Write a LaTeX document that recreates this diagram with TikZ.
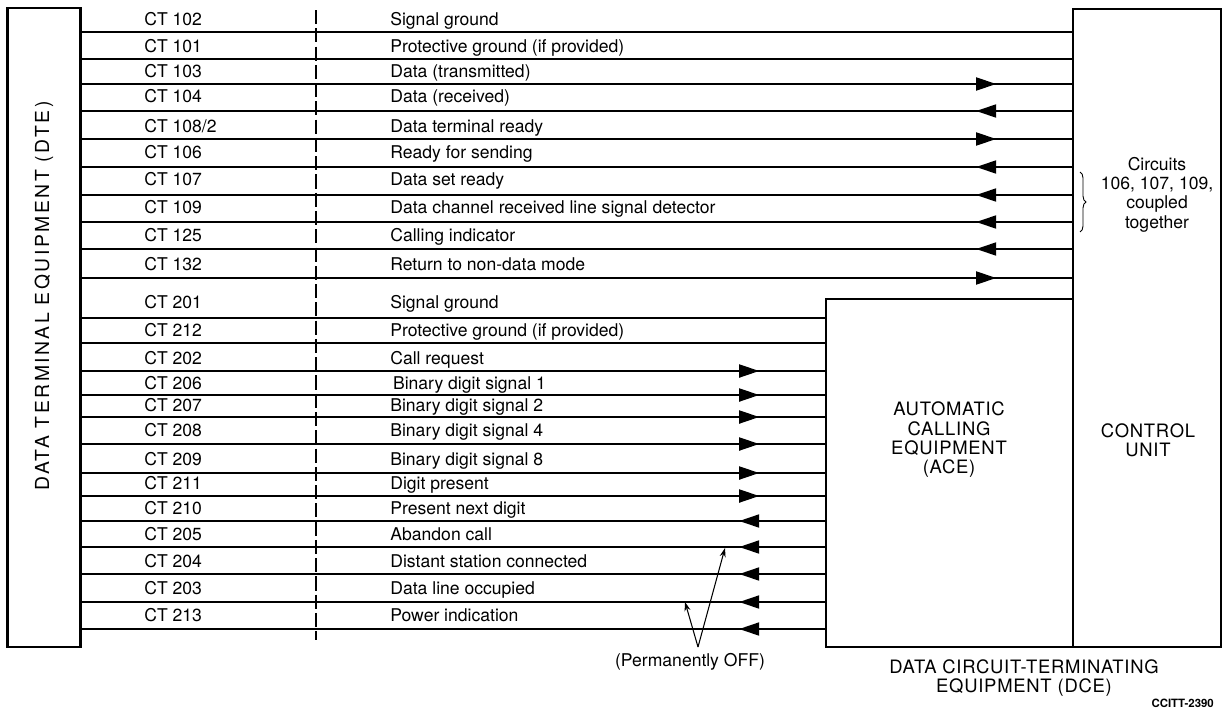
\documentclass[tikz,border=0pt]{standalone}
\usepackage{fontspec}
\setmainfont{TeX Gyre Heros}
\newfontfamily\capsfont[LetterSpace=4]{TeX Gyre Heros}
\newfontfamily\dtefont[LetterSpace=13]{TeX Gyre Heros}
\usetikzlibrary{arrows.meta,fit,decorations.markings,decorations.pathreplacing}

\begin{document}
\begin{tikzpicture}[x=0.02cm, y=-0.02cm,
  font=\fontsize{10}{12}\selectfont,
  >={Triangle[length=4mm,width=2.6mm]},
  box/.style={draw, line width=1.5pt, inner sep=0pt},
  sig/.style={line width=1.1pt},
  fwd/.style={sig, postaction={decorate}, decoration={markings,
    mark=at position #1 with {\arrow{>}}}},
  bwd/.style={sig, postaction={decorate}, decoration={markings,
    mark=at position #1 with {\arrow{<}}}},
  ct/.style={anchor=base west, inner sep=0pt},
  caps/.style={font=\capsfont\fontsize{10.5}{11}\selectfont, align=center},
  iface/.style={line width=1.1pt, dash pattern=on 8pt off 2.4pt},
  offarr/.style={line width=0.6pt, -{Stealth[length=1.8mm,width=1.2mm]}},
]
\useasboundingbox (0,0) rectangle (1222,710);
% equipment boxes
\node[box, fit={(7.5,8) (80.5,647)}] (dte) {};
\node[box, fit={(1073,9) (1221,647)}] (cu) {};
\node[box, fit={(826,299) (1073,647)}] (ace) {};
\node[rotate=90, font=\dtefont\fontsize{11}{13}\selectfont] (dtel) at (44,296)
  {DATA TERMINAL EQUIPMENT (DTE)};
\node[caps] (acel) at (949,440) {AUTOMATIC\\CALLING\\EQUIPMENT\\(ACE)};
\node[caps] (cul) at (1148,440) {CONTROL\\UNIT};
\node[caps] (dcel) at (1024,678) {DATA CIRCUIT-TERMINATING\\EQUIPMENT (DCE)};
\node[align=center, font=\fontsize{10}{11}\selectfont] (cpl) at (1157,194.5)
  {Circuits\\106, 107, 109,\\coupled\\together};
\coordinate (brt) at (1080,172);
\coordinate (brb) at (1080,232);
\draw[line width=0.5pt, decorate, decoration={brace, amplitude=1.2mm}] (brt) -- (brb);
% interface
\coordinate (itop) at (316,10);
\coordinate (ibot) at (316,640);
\draw[iface] (itop) -- (ibot);
% 100-series circuits
\node[ct] (c102) at (144,25.7) {CT 102}; \node[ct] (s102) at (390,25.7) {Signal ground};
\draw[sig] (dte.east |- 0,32) -- (cu.west |- 0,32);
\node[ct] (c101) at (144,52.3) {CT 101}; \node[ct] (s101) at (390,52.3) {Protective ground (if provided)};
\draw[sig] (dte.east |- 0,59) -- (cu.west |- 0,59);
\node[ct] (c103) at (144,77.3) {CT 103}; \node[ct] (s103) at (390,77.3) {Data (transmitted)};
\draw[fwd=18.29cm] (dte.east |- 0,84) -- (cu.west |- 0,84);
\node[ct] (c104) at (144,102.3) {CT 104}; \node[ct] (s104) at (390,102.3) {Data (received)};
\draw[bwd=18.29cm] (dte.east |- 0,111) -- (cu.west |- 0,111);
\node[ct] (c108) at (144,132.3) {CT 108/2}; \node[ct] (s108) at (390,132.3) {Data terminal ready};
\draw[fwd=18.29cm] (dte.east |- 0,139) -- (cu.west |- 0,139);
\node[ct] (c106) at (144,158.3) {CT 106}; \node[ct] (s106) at (390,158.3) {Ready for sending};
\draw[bwd=18.29cm] (dte.east |- 0,167) -- (cu.west |- 0,167);
\node[ct] (c107) at (144,185.7) {CT 107}; \node[ct] (s107) at (390,185.7) {Data set ready};
\draw[bwd=18.29cm] (dte.east |- 0,195) -- (cu.west |- 0,195);
\node[ct] (c109) at (144,213.3) {CT 109}; \node[ct] (s109) at (390,213.3) {Data channel received line signal detector};
\draw[bwd=18.29cm] (dte.east |- 0,222) -- (cu.west |- 0,222);
\node[ct] (c125) at (144,241.7) {CT 125}; \node[ct] (s125) at (390,241.7) {Calling indicator};
\draw[bwd=18.29cm] (dte.east |- 0,249) -- (cu.west |- 0,249);
\node[ct] (c132) at (144,270) {CT 132}; \node[ct] (s132) at (390,270) {Return to non-data mode};
\draw[fwd=18.29cm] (dte.east |- 0,278) -- (cu.west |- 0,278);
% 200-series circuits
\node[ct] (c201) at (144,308.3) {CT 201}; \node[ct] (s201) at (390,308.3) {Signal ground};
\draw[sig] (dte.east |- 0,318) -- (ace.west |- 0,318);
\node[ct] (c212) at (144,336) {CT 212}; \node[ct] (s212) at (390,336) {Protective ground (if provided)};
\draw[sig] (dte.east |- 0,343) -- (ace.west |- 0,343);
\node[ct] (c202) at (144,364) {CT 202}; \node[ct] (s202) at (390,364) {Call request};
\draw[fwd=13.55cm] (dte.east |- 0,371) -- (ace.west |- 0,371);
\node[ct] (c206) at (144,389.3) {CT 206}; \node[ct] (s206) at (392.7,389.3) {Binary digit signal 1};
\draw[fwd=13.55cm] (dte.east |- 0,395) -- (ace.west |- 0,395);
\node[ct] (c207) at (144,411.7) {CT 207}; \node[ct] (s207) at (390,411.7) {Binary digit signal 2};
\draw[fwd=13.55cm] (dte.east |- 0,417) -- (ace.west |- 0,417);
\node[ct] (c208) at (144,436.7) {CT 208}; \node[ct] (s208) at (390,436.7) {Binary digit signal 4};
\draw[fwd=13.55cm] (dte.east |- 0,444) -- (ace.west |- 0,444);
\node[ct] (c209) at (144,465.7) {CT 209}; \node[ct] (s209) at (390,465.7) {Binary digit signal 8};
\draw[fwd=13.55cm] (dte.east |- 0,473) -- (ace.west |- 0,473);
\node[ct] (c211) at (144,489) {CT 211}; \node[ct] (s211) at (390,489) {Digit present};
\draw[fwd=13.55cm] (dte.east |- 0,496) -- (ace.west |- 0,496);
\node[ct] (c210) at (144,514.3) {CT 210}; \node[ct] (s210) at (390,514.3) {Present next digit};
\draw[bwd=13.55cm] (dte.east |- 0,521) -- (ace.west |- 0,521);
\node[ct] (c205) at (144,540.7) {CT 205}; \node[ct] (s205) at (390,540.7) {Abandon call};
\draw[bwd=13.55cm] (dte.east |- 0,547) -- (ace.west |- 0,547);
\node[ct] (c204) at (144,567.3) {CT 204}; \node[ct] (s204) at (390,567.3) {Distant station connected};
\draw[bwd=13.55cm] (dte.east |- 0,574) -- (ace.west |- 0,574);
\node[ct] (c203) at (144,594.3) {CT 203}; \node[ct] (s203) at (390,594.3) {Data line occupied};
\draw[bwd=13.55cm] (dte.east |- 0,602) -- (ace.west |- 0,602);
\node[ct] (c213) at (144,621.7) {CT 213}; \node[ct] (s213) at (390,621.7) {Power indication};
\draw[bwd=13.55cm] (dte.east |- 0,629) -- (ace.west |- 0,629);
% permanently off
\node (off) at (690,662) {(Permanently OFF)};
\coordinate (offv) at (698,647);
\coordinate (off1) at (725,548);
\coordinate (off2) at (685,602);
\draw[offarr] (offv) -- (off1);
\draw[offarr] (offv) -- (off2);
\node[anchor=base east, font=\bfseries\fontsize{6.5}{8}\selectfont] (ccitt) at (1220,707) {CCITT-2390};
\end{tikzpicture}
\end{document}
